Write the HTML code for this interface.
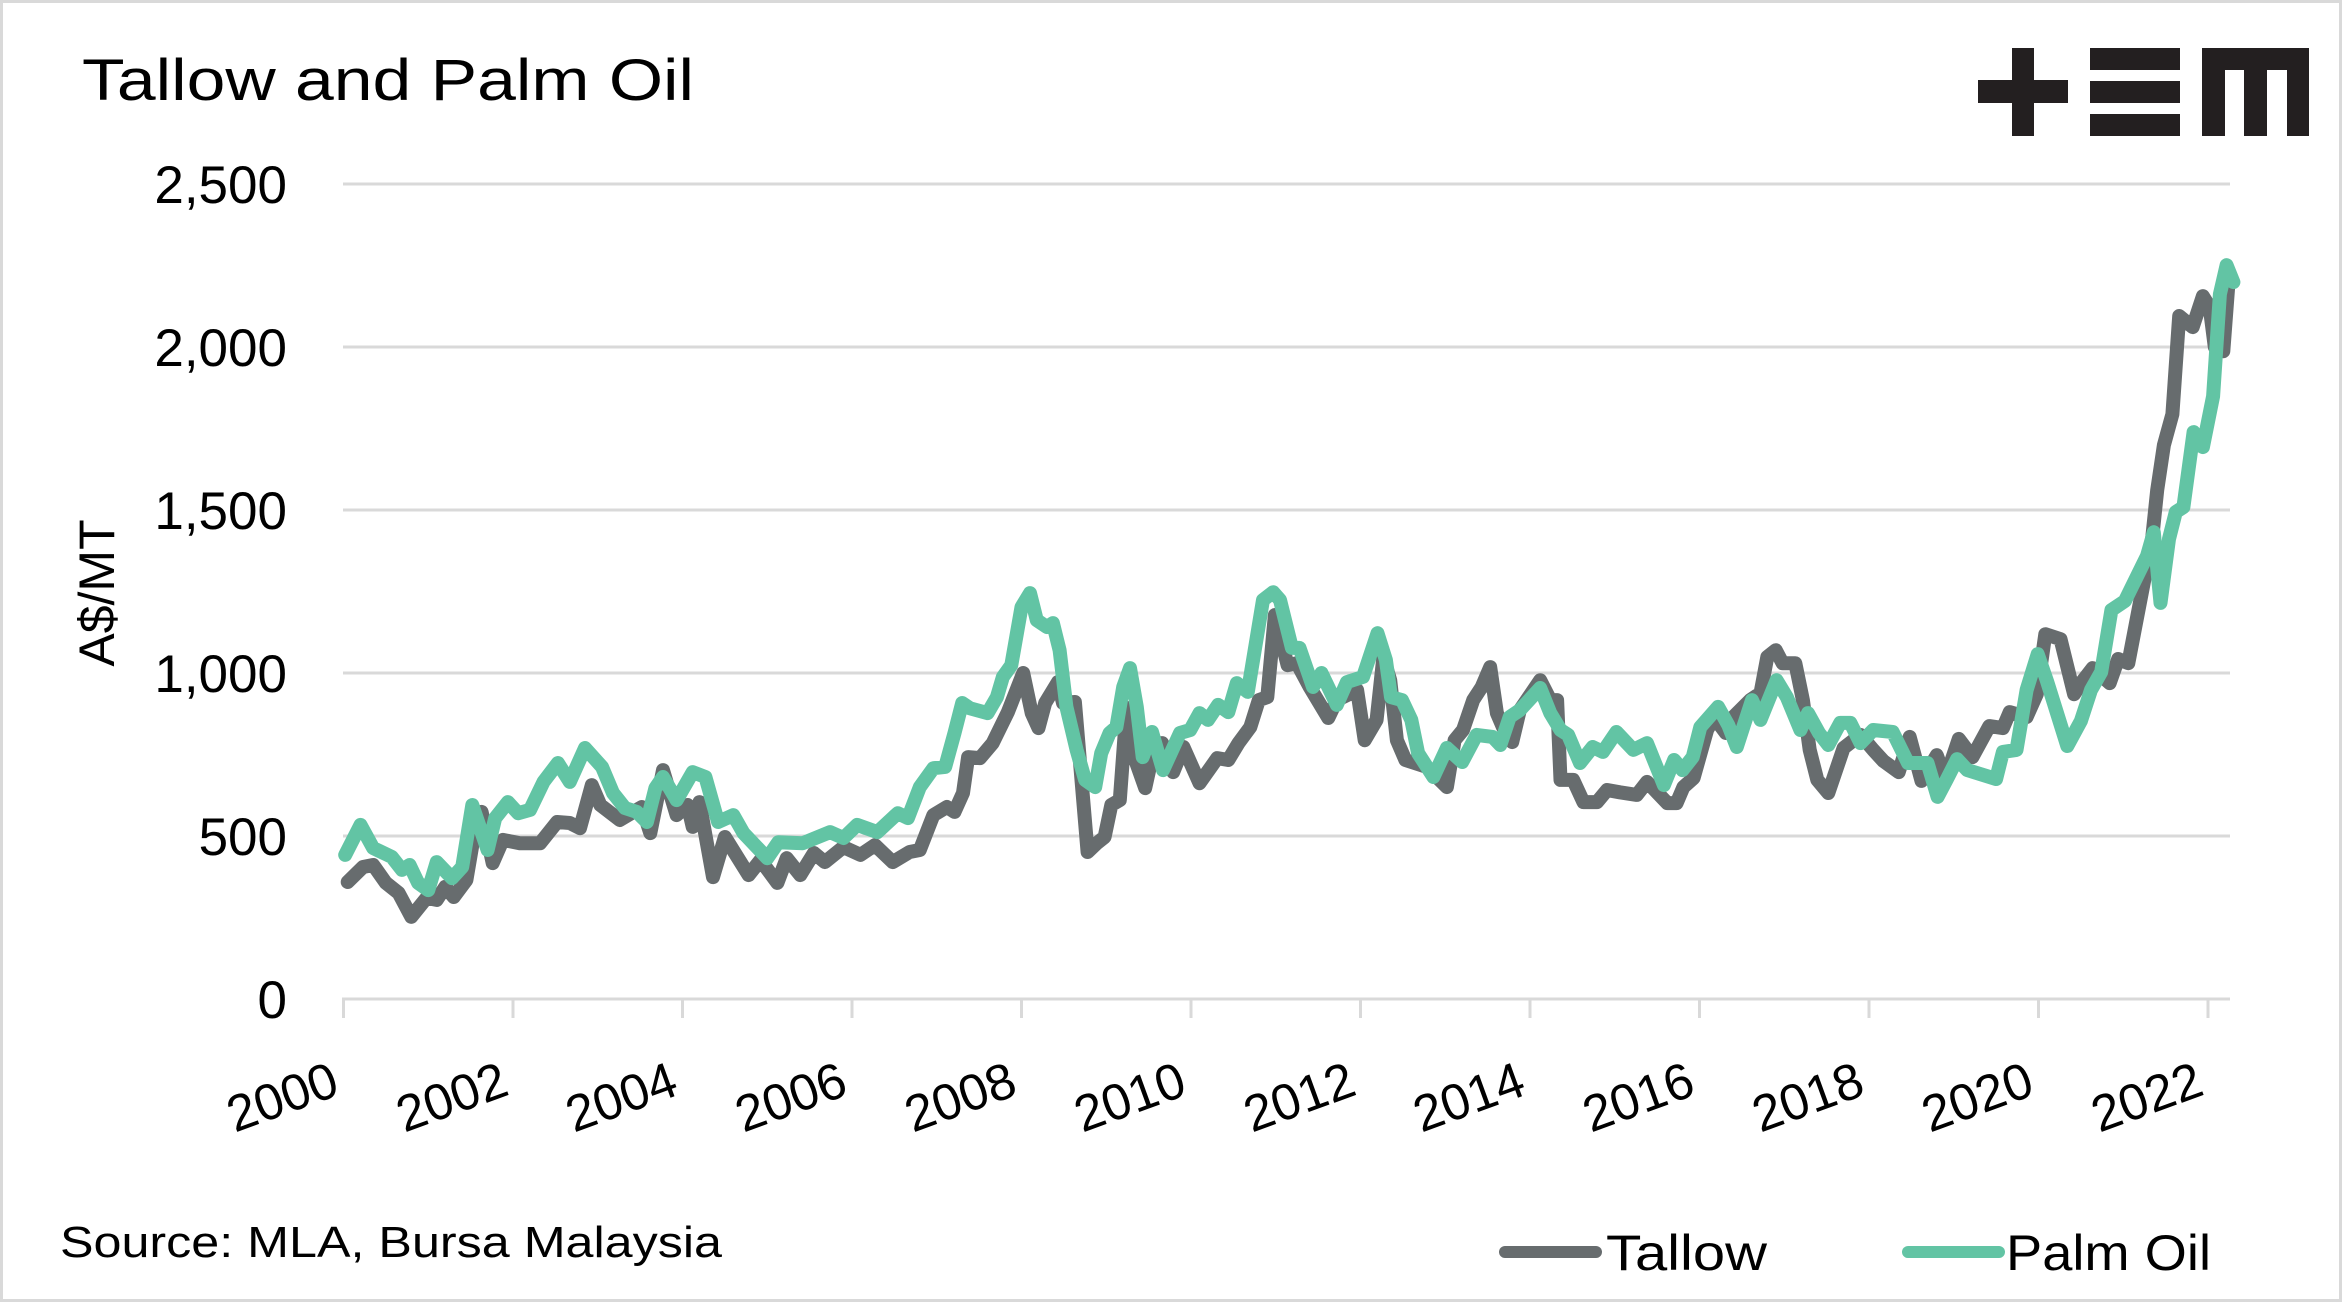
<!DOCTYPE html>
<html><head><meta charset="utf-8"><style>
html,body{margin:0;padding:0;background:#fff}
svg{display:block}
text{font-family:"Liberation Sans",sans-serif;fill:#000}
</style></head><body>
<svg id="chart" width="2342" height="1302" viewBox="0 0 2342 1302" xmlns="http://www.w3.org/2000/svg">
<rect x="1.5" y="1.5" width="2339" height="1299" fill="#fff" stroke="#d9d9d9" stroke-width="3"/>
<text x="82" y="100" font-size="58" textLength="612" lengthAdjust="spacingAndGlyphs">Tallow and Palm Oil</text>
<g fill="#231f20">
<rect x="1978" y="80" width="90" height="23"/><rect x="2012" y="48" width="22" height="88"/>
<rect x="2090" y="48" width="90" height="22"/><rect x="2090" y="81" width="90" height="22"/><rect x="2090" y="114" width="90" height="22"/>
<rect x="2202" y="48" width="107" height="22"/><rect x="2202" y="48" width="23" height="88"/><rect x="2244" y="48" width="23" height="88"/><rect x="2287" y="48" width="22" height="88"/>
</g>
<g id="grid"></g><g id="axes"></g><g id="series"></g>
<text transform="translate(114,593) rotate(-90)" text-anchor="middle" font-size="50">A$/MT</text>
<text x="60" y="1257" font-size="44" textLength="662" lengthAdjust="spacingAndGlyphs">Source: MLA, Bursa Malaysia</text>
<g>
<line x1="1505" y1="1252" x2="1596" y2="1252" stroke="#676c6e" stroke-width="12" stroke-linecap="round"/>
<text x="1606" y="1270" font-size="50" textLength="161" lengthAdjust="spacingAndGlyphs">Tallow</text>
<line x1="1908" y1="1252" x2="1999" y2="1252" stroke="#62c4a4" stroke-width="12" stroke-linecap="round"/>
<text x="2006" y="1270" font-size="50" textLength="205" lengthAdjust="spacingAndGlyphs">Palm Oil</text>
</g>
</svg>
<script>
const yTicks=[0,500,1000,1500,2000,2500];
const yTickLabels=["0","500","1,000","1,500","2,000","2,500"];
const xTicks=[2000,2002,2004,2006,2008,2010,2012,2014,2016,2018,2020,2022];
const tallowDates=[2000.05,2000.23,2000.35,2000.5,2000.65,2000.8,2000.98,2001.1,2001.2,2001.3,2001.45,2001.53,2001.63,2001.76,2001.88,2002.08,2002.32,2002.52,2002.67,2002.79,2002.93,2003.03,2003.26,2003.52,2003.62,2003.77,2003.93,2004.06,2004.12,2004.2,2004.36,2004.5,2004.78,2004.92,2005.12,2005.23,2005.39,2005.55,2005.68,2005.9,2006.1,2006.27,2006.48,2006.68,2006.8,2006.96,2007.12,2007.21,2007.31,2007.37,2007.51,2007.66,2007.84,2008.02,2008.12,2008.2,2008.28,2008.43,2008.49,2008.63,2008.78,2008.89,2008.98,2009.06,2009.16,2009.24,2009.3,2009.46,2009.55,2009.66,2009.79,2009.91,2010.1,2010.31,2010.44,2010.56,2010.7,2010.8,2010.9,2010.99,2011.14,2011.25,2011.4,2011.62,2011.72,2011.84,2011.96,2012.05,2012.19,2012.27,2012.35,2012.43,2012.53,2012.78,2013.02,2013.11,2013.21,2013.33,2013.43,2013.53,2013.61,2013.68,2013.79,2013.88,2014.12,2014.24,2014.32,2014.36,2014.51,2014.63,2014.79,2014.91,2015.06,2015.26,2015.38,2015.62,2015.73,2015.81,2015.93,2016.09,2016.17,2016.31,2016.4,2016.6,2016.72,2016.8,2016.9,2016.98,2017.13,2017.22,2017.3,2017.39,2017.52,2017.7,2017.9,2018.05,2018.17,2018.35,2018.48,2018.62,2018.8,2018.9,2019.06,2019.22,2019.42,2019.58,2019.66,2019.86,2019.98,2020.08,2020.26,2020.42,2020.52,2020.64,2020.84,2020.94,2021.06,2021.22,2021.34,2021.4,2021.48,2021.58,2021.66,2021.82,2021.94,2022.02,2022.08,2022.18,2022.24];
const tallowValues=[359,405,411,356,325,252,310,304,344,313,365,488,574,417,488,478,478,543,540,524,656,595,549,589,509,702,564,595,528,604,374,497,380,426,356,432,380,448,420,466,442,472,420,451,457,564,589,574,632,742,739,785,880,1000,877,831,908,972,908,911,451,478,497,595,610,893,764,647,754,785,696,773,662,739,733,785,834,917,926,1178,1024,1030,957,862,917,932,948,794,856,1049,978,794,733,712,650,794,825,917,957,1018,877,834,788,886,978,917,917,672,672,604,604,641,634,626,666,601,601,650,678,825,865,816,865,917,938,1049,1070,1030,1030,917,764,672,632,770,810,764,730,696,804,669,748,675,798,742,837,831,880,865,935,1119,1104,935,975,1015,969,1043,1030,1248,1411,1561,1699,1794,2095,2061,2156,2122,2000,1987,2190];
const palmDates=[2000.02,2000.2,2000.35,2000.57,2000.69,2000.78,2000.88,2001.0,2001.1,2001.28,2001.4,2001.52,2001.7,2001.79,2001.94,2002.06,2002.2,2002.36,2002.53,2002.67,2002.85,2003.05,2003.18,2003.32,2003.46,2003.58,2003.68,2003.77,2003.93,2004.12,2004.27,2004.42,2004.6,2004.72,2005.0,2005.13,2005.42,2005.74,2005.9,2006.06,2006.3,2006.54,2006.66,2006.8,2006.96,2007.1,2007.21,2007.3,2007.39,2007.6,2007.71,2007.78,2007.88,2008.0,2008.1,2008.18,2008.3,2008.37,2008.45,2008.53,2008.65,2008.75,2008.87,2008.94,2009.04,2009.12,2009.2,2009.28,2009.36,2009.43,2009.54,2009.67,2009.87,2009.99,2010.1,2010.2,2010.32,2010.44,2010.54,2010.67,2010.85,2010.97,2011.05,2011.19,2011.28,2011.44,2011.54,2011.72,2011.84,2012.03,2012.2,2012.3,2012.36,2012.49,2012.6,2012.68,2012.86,2013.02,2013.2,2013.37,2013.56,2013.65,2013.76,2013.88,2014.12,2014.24,2014.36,2014.45,2014.59,2014.74,2014.86,2015.02,2015.22,2015.38,2015.58,2015.7,2015.8,2015.92,2016.01,2016.22,2016.34,2016.44,2016.62,2016.72,2016.91,2017.03,2017.19,2017.28,2017.41,2017.52,2017.66,2017.78,2017.9,2018.05,2018.28,2018.46,2018.69,2018.81,2018.92,2019.04,2019.16,2019.5,2019.58,2019.74,2019.86,2019.99,2020.1,2020.34,2020.5,2020.62,2020.74,2020.86,2021.02,2021.28,2021.36,2021.44,2021.54,2021.62,2021.71,2021.83,2021.94,2022.06,2022.14,2022.22,2022.3];
const palmValues=[442,534,463,436,396,411,356,334,420,371,405,595,457,555,604,570,580,666,724,666,770,712,632,586,574,543,647,681,610,696,681,543,564,509,432,481,478,512,494,534,512,570,555,650,708,712,816,908,892,877,926,988,1024,1202,1245,1162,1141,1153,1070,896,764,672,650,754,816,834,957,1015,896,742,819,702,816,825,877,856,902,880,969,942,1224,1248,1224,1077,1077,957,1000,902,972,988,1122,1040,926,917,856,754,681,770,727,810,804,779,865,886,954,877,825,810,724,773,758,819,764,785,656,733,702,742,834,896,840,773,917,856,978,926,825,877,816,779,847,847,785,825,819,724,724,620,675,736,702,675,758,764,948,1058,975,776,853,948,1003,1193,1221,1359,1432,1215,1411,1494,1509,1739,1693,1849,2162,2251,2199];

const NS="http://www.w3.org/2000/svg";
const X0=343.5,PX=84.75,Y0=999,PY=163/500;
function xs(t){return X0+(t-2000)*PX;}
function ys(v){return Y0-v*PY;}
function mk(tag,attrs,parent){const e=document.createElementNS(NS,tag);for(const k in attrs)e.setAttribute(k,attrs[k]);parent.appendChild(e);return e;}
const grid=document.getElementById('grid'),axes=document.getElementById('axes'),series=document.getElementById('series');
yTicks.forEach((v,i)=>{
  if(v>0){const g=mk('line',{x1:343,x2:2230,y1:ys(v),y2:ys(v),stroke:'#d9d9d9','stroke-width':3},grid);
  
  }
  const t=mk('text',{x:287,y:ys(v)+19,'text-anchor':'end','font-size':53},axes);
  t.textContent=yTickLabels[i];
  
  
});
const ax=mk('line',{x1:342,x2:2230,y1:Y0,y2:Y0,stroke:'#d9d9d9','stroke-width':3},axes);


xTicks.forEach(yr=>{
  const x=xs(yr);
  const tk=mk('line',{x1:x,x2:x,y1:Y0,y2:Y0+19,stroke:'#d9d9d9','stroke-width':3},axes);
  
  
  const t=mk('text',{transform:'translate('+(x-2)+',1094) rotate(-20)','text-anchor':'end','font-size':51},axes);
  t.textContent=String(yr);
  
  
});
function drawLine(d,v,color,name){
  const pts=d.map((t,i)=>xs(t).toFixed(1)+','+ys(v[i]).toFixed(1)).join(' ');
  const p=mk('polyline',{points:pts,fill:'none',stroke:color,'stroke-width':14,'stroke-linejoin':'round','stroke-linecap':'round'},series);
  
  
}
drawLine(tallowDates,tallowValues,'#676c6e','tallow-line');
drawLine(palmDates,palmValues,'#62c4a4','palm-oil-line');
</script>
</body></html>
